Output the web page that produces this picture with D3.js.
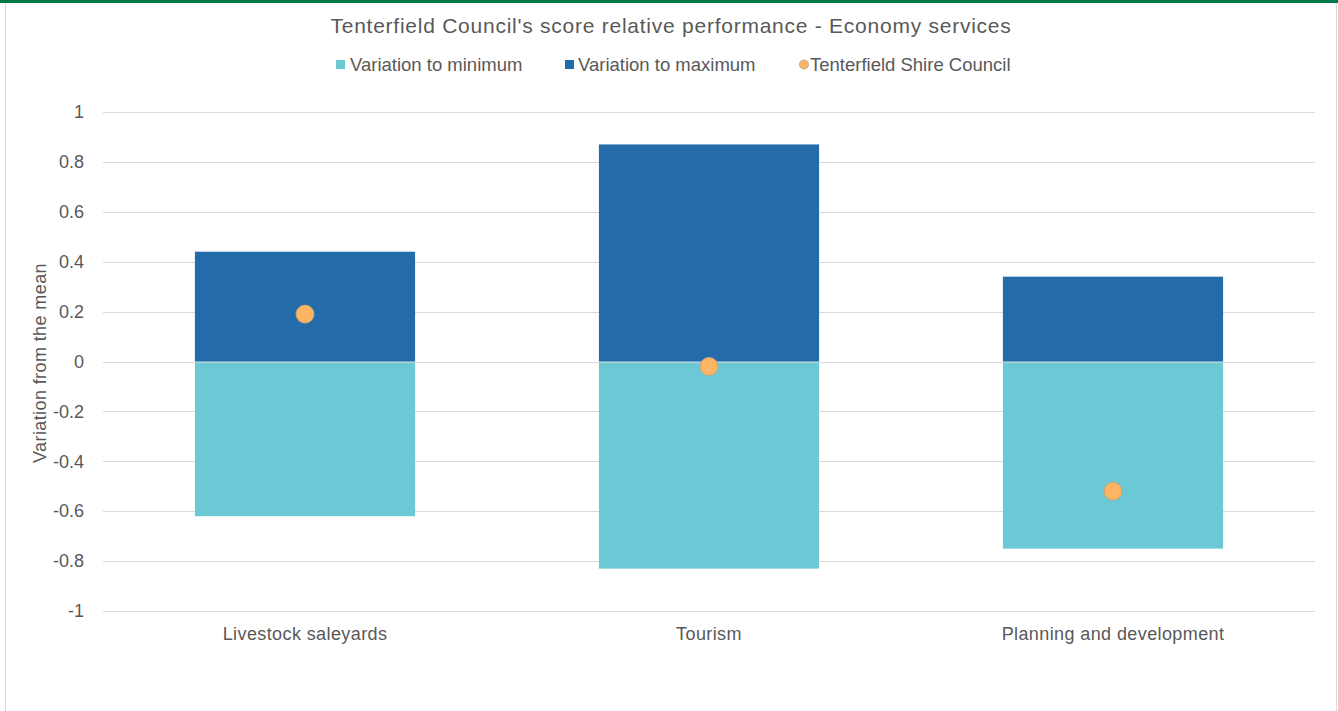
<!DOCTYPE html>
<html><head><meta charset="utf-8">
<script src="https://cdn.jsdelivr.net/npm/d3@7"></script>
<style>
html,body{margin:0;padding:0;background:#fff;}
svg{display:block;font-family:"Liberation Sans",Arial,sans-serif;}
</style></head><body>
<svg id="c" width="1338" height="711"></svg>
<script>
const categories = ["Livestock saleyards","Tourism","Planning and development"];
const varMin = [-0.62,-0.83,-0.75];
const varMax = [0.44,0.87,0.34];
const council = [0.19,-0.02,-0.52];
const yTicks = [1,0.8,0.6,0.4,0.2,0,-0.2,-0.4,-0.6,-0.8,-1];

const svg = d3.select("#c");
const W=1338,H=711;
svg.append("rect").attr("x",5.5).attr("y",0).attr("width",W-7).attr("height",H+5).attr("fill","#fff").attr("stroke","#d9d9d9");
svg.append("rect").attr("x",0).attr("y",0).attr("width",W).attr("height",3).attr("fill","#00784a");

const x = d3.scaleBand().domain(categories).range([103,1315]).paddingInner(0.455).paddingOuter(0.2275);
const y = d3.scaleLinear().domain([-1,1]).range([611,112]);

const g = svg.append("g");
g.selectAll("line.grid").data(yTicks).join("line").attr("class","grid")
 .attr("x1",103).attr("x2",1315).attr("y1",d=>Math.round(y(d))+0.5).attr("y2",d=>Math.round(y(d))+0.5)
 .attr("stroke","#d9d9d9").attr("stroke-width",1);

const yAxis = d3.axisLeft(y).tickValues(yTicks).tickSize(0).tickPadding(0).tickFormat(d=>String(d));
const ya = svg.append("g").attr("transform","translate(84,0)").call(yAxis);
ya.select(".domain").remove();
ya.selectAll("text").attr("fill","#595959").attr("font-size",18).attr("font-family","Liberation Sans, Arial, sans-serif");

const data = categories.map((c,i)=>({c,mn:varMin[i],mx:varMax[i],v:council[i]}));
g.selectAll("rect.mn").data(data).join("rect").attr("class","mn")
 .attr("x",d=>x(d.c)).attr("width",x.bandwidth()).attr("y",y(0)).attr("height",d=>y(d.mn)-y(0)).attr("fill","#6bc9d6");
g.selectAll("rect.mx").data(data).join("rect").attr("class","mx")
 .attr("x",d=>x(d.c)).attr("width",x.bandwidth()).attr("y",d=>y(d.mx)).attr("height",d=>y(0)-y(d.mx)).attr("fill","#236ba9");
g.append("line").attr("x1",103).attr("x2",1315).attr("y1",Math.round(y(0))+0.5).attr("y2",Math.round(y(0))+0.5)
 .attr("stroke","#d9d9d9").attr("stroke-opacity",0.7);
g.selectAll("circle.pt").data(data).join("circle").attr("class","pt")
 .attr("cx",d=>x(d.c)+x.bandwidth()/2).attr("cy",d=>y(d.v)).attr("r",9)
 .attr("fill","#fdb563").attr("stroke","#c8a27a").attr("stroke-width",1);

const xAxis = d3.axisBottom(x).tickSize(0).tickPadding(0);
const xa = svg.append("g").attr("transform","translate(0,640)").call(xAxis);
xa.select(".domain").remove();
xa.selectAll("text").attr("fill","#595959").attr("font-size",18).attr("dy","0").attr("letter-spacing",0.4).attr("font-family","Liberation Sans, Arial, sans-serif");

svg.append("text").attr("x",671).attr("y",33).attr("text-anchor","middle").attr("fill","#595959").attr("font-size",21).attr("letter-spacing",0.75)
 .text("Tenterfield Council's score relative performance - Economy services");

svg.append("text").attr("transform","translate(46,363) rotate(-90)").attr("text-anchor","middle").attr("fill","#595959").attr("font-size",18).attr("letter-spacing",0.4)
 .text("Variation from the mean");

const leg = [
 {t:"Variation to minimum",c:"#6bc9d6",type:"sq",x:336,tx:350},
 {t:"Variation to maximum",c:"#236ba9",type:"sq",x:565,tx:578},
 {t:"Tenterfield Shire Council",c:"#fdb563",type:"ci",x:799,tx:810}
];
const lg = svg.append("g");
leg.forEach(l=>{
  if(l.type==="sq") lg.append("rect").attr("x",l.x).attr("y",60).attr("width",9).attr("height",9).attr("fill",l.c);
  else lg.append("circle").attr("cx",l.x+5).attr("cy",64.5).attr("r",4.5).attr("fill",l.c).attr("stroke","#b0a090").attr("stroke-width",0.8);
  lg.append("text").attr("x",l.tx).attr("y",71).attr("fill","#595959").attr("font-size",18.5).text(l.t);
});
</script></body></html>
